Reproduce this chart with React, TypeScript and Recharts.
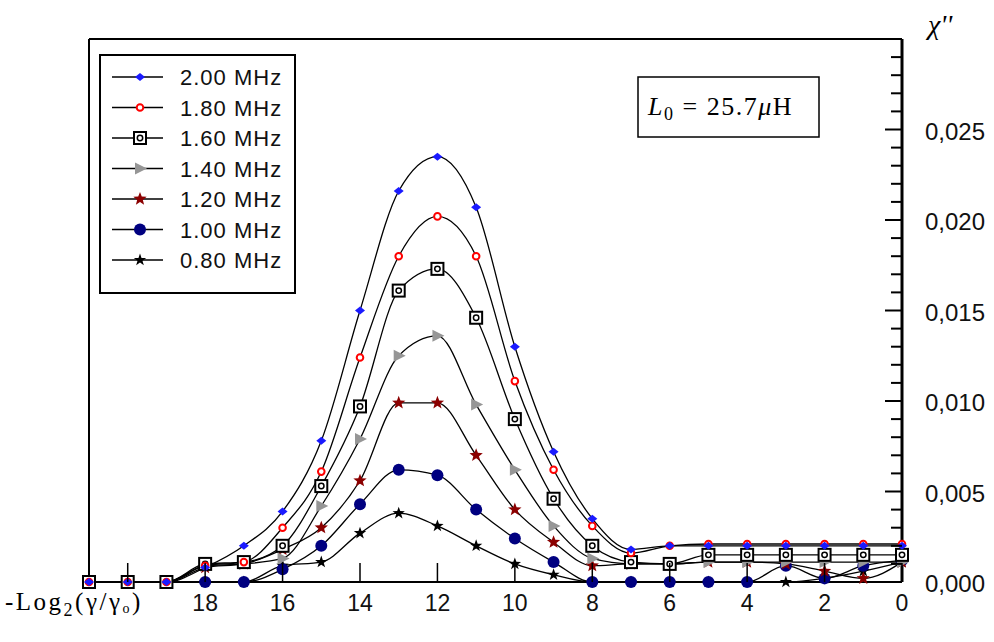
import React from 'react';
import { LineChart, Line, XAxis, YAxis, ReferenceLine } from 'recharts';

// x positions: -Log2(γ/γ0)
const xValues = [21, 20, 19, 18, 17, 16, 15, 14, 13, 12, 11, 10, 9, 8, 7, 6, 5, 4, 3, 2, 1, 0];

const s200 = [0, 0, 0, 0.0008, 0.002, 0.0039, 0.0078, 0.015, 0.0216, 0.0235, 0.0207, 0.013, 0.0072, 0.0035, 0.0018, 0.002, 0.002, 0.002, 0.002, 0.002, 0.002, 0.002];
const s180 = [0, 0, 0, 0.0009, 0.0011, 0.003, 0.0061, 0.0124, 0.018, 0.0202, 0.018, 0.0111, 0.0062, 0.0031, 0.0016, 0.002, 0.0021, 0.0021, 0.0021, 0.0021, 0.0021, 0.0021];
const s160 = [0, 0, 0, 0.001, 0.0011, 0.002, 0.0053, 0.0097, 0.0161, 0.0173, 0.0146, 0.009, 0.0046, 0.002, 0.0011, 0.001, 0.0015, 0.0015, 0.0015, 0.0015, 0.0015, 0.0015];
const s140 = [0, 0, 0, 0.0009, 0.001, 0.0013, 0.0042, 0.0079, 0.0125, 0.0136, 0.0098, 0.0062, 0.0031, 0.0013, 0.001, 0.001, 0.0011, 0.0011, 0.0011, 0.0011, 0.0011, 0.0011];
const s120 = [0, 0, 0, 0.0008, 0.001, 0.0018, 0.003, 0.0056, 0.0099, 0.0099, 0.007, 0.004, 0.0022, 0.0009, 0.001, 0.001, 0.0011, 0.0011, 0.001, 0.0006, 0.0002, 0.0011];
const s100 = [0, 0, 0, 0, 0, 0.0007, 0.002, 0.0043, 0.0062, 0.0059, 0.004, 0.0024, 0.0011, 0, 0, 0, 0, 0, 0.0009, 0.0002, 0.0009, 0.0012];
const s080 = [0, 0, 0, 0, 0, 0.0009, 0.0011, 0.0027, 0.0038, 0.0031, 0.002, 0.001, 0.0004, 0, 0, 0, 0, 0, 0, 0.0002, 0.0006, 0.0011];

const seriesNames = ['2.00 MHz', '1.80 MHz', '1.60 MHz', '1.40 MHz', '1.20 MHz', '1.00 MHz', '0.80 MHz'];
const seriesKeys = ['s200', 's180', 's160', 's140', 's120', 's100', 's080'];
const seriesMarkers = ['diamond', 'ring', 'box', 'triangle', 'starRed', 'circle', 'starBlack'];

const xTicks = [20, 18, 16, 14, 12, 10, 8, 6, 4, 2, 0];
const yTicks = [0, 0.001, 0.002, 0.003, 0.004, 0.005, 0.006, 0.007, 0.008, 0.009, 0.01, 0.011, 0.012, 0.013, 0.014, 0.015, 0.016, 0.017, 0.018, 0.019, 0.02, 0.021, 0.022, 0.023, 0.024, 0.025, 0.026, 0.027, 0.028, 0.029, 0.03];
const yMajorLabels = [0, 0.005, 0.01, 0.015, 0.02, 0.025];

const allSeries = [s200, s180, s160, s140, s120, s100, s080];
const data = xValues.map((x, i) => {
  const row: any = { x };
  seriesKeys.forEach((k, j) => { row[k] = allSeries[j][i]; });
  return row;
});

function starPoints(cx: number, cy: number, R: number, r: number) {
  const pts: string[] = [];
  for (let i = 0; i < 10; i++) {
    const a = -Math.PI / 2 + (i * Math.PI) / 5;
    const rad = i % 2 === 0 ? R : r;
    pts.push(`${cx + rad * Math.cos(a)},${cy + rad * Math.sin(a)}`);
  }
  return pts.join(' ');
}

function Marker({ kind, cx, cy }: { kind: string; cx: number; cy: number }) {
  switch (kind) {
    case 'diamond':
      return <polygon points={`${cx},${cy - 4} ${cx + 5},${cy} ${cx},${cy + 4} ${cx - 5},${cy}`} fill="#1a1aff" />;
    case 'ring':
      return <circle cx={cx} cy={cy} r={3.3} fill="#fff" stroke="#ff0000" strokeWidth={2} />;
    case 'box':
      return (
        <g>
          <rect x={cx - 6} y={cy - 6} width={12} height={12} fill="#fff" stroke="#000" strokeWidth={2} />
          <circle cx={cx} cy={cy} r={2.7} fill="none" stroke="#000" strokeWidth={1.5} />
        </g>
      );
    case 'triangle':
      return <polygon points={`${cx - 5},${cy - 6} ${cx + 7},${cy} ${cx - 5},${cy + 6}`} fill="#969696" />;
    case 'starRed':
      return <polygon points={starPoints(cx, cy, 7, 3)} fill="#8b0000" />;
    case 'circle':
      return <circle cx={cx} cy={cy} r={6} fill="#000080" />;
    case 'starBlack':
      return <polygon points={starPoints(cx, cy, 6.5, 2.6)} fill="#000" />;
    default:
      return null;
  }
}

const makeDot = (kind: string, key: string) => (props: any) => {
  if (props.cx == null || props.cy == null) return <g key={`${key}-${props.index}`} />;
  return (
    <g key={`${key}-${props.index}`}>
      <Marker kind={kind} cx={props.cx} cy={props.cy} />
    </g>
  );
};

const XTick = (props: any) => {
  const { x, y, payload } = props;
  const v = payload.value;
  return (
    <g>
      <line x1={x} y1={y} x2={x} y2={y - 19} stroke="#000" strokeWidth={1.5} />
      {v !== 20 && (
        <text x={x} y={y + 29} textAnchor="middle" fontFamily="'Liberation Sans', Arial, sans-serif" fontSize={23} fill="#111">
          {v}
        </text>
      )}
    </g>
  );
};

const YTick = (props: any) => {
  const { x, y, payload } = props;
  const v = payload.value;
  const isMajor = yMajorLabels.some((m) => Math.abs(m - v) < 1e-9);
  return (
    <g>
      <line x1={x} y1={y} x2={x - (isMajor ? 17 : 11)} y2={y} stroke="#000" strokeWidth={2} />
      {isMajor && (
        <text x={x + 23} y={y + 10} textAnchor="start" fontFamily="'Liberation Sans', Arial, sans-serif" fontSize={24} fill="#111">
          {v.toFixed(3).replace('.', ',')}
        </text>
      )}
    </g>
  );
};

export default function App() {
  const drawOrder = [6, 5, 4, 3, 2, 1, 0];
  return (
    <div style={{ position: 'absolute', left: 0, top: 0, width: 994, height: 642, background: '#fff' }}>
      <LineChart width={994} height={642} data={data} margin={{ top: 39, right: 12, bottom: 20, left: 89 }}>
        <XAxis
          dataKey="x"
          type="number"
          domain={[0, 21]}
          reversed
          ticks={xTicks}
          interval={0}
          tickSize={0}
          tickMargin={0}
          tickLine={false}
          axisLine={{ stroke: '#000', strokeWidth: 2 }}
          height={40}
          tick={<XTick />}
        />
        <YAxis
          orientation="right"
          type="number"
          domain={[0, 0.03]}
          ticks={yTicks}
          interval={0}
          tickSize={0}
          tickMargin={0}
          tickLine={false}
          axisLine={{ stroke: '#000', strokeWidth: 3 }}
          width={80}
          tick={<YTick />}
        />
        <ReferenceLine y={0.03} stroke="#000" strokeWidth={2} />
        <ReferenceLine x={21} stroke="#000" strokeWidth={2} />
        {drawOrder.map((j) => (
          <Line
            key={seriesKeys[j]}
            type="monotoneX"
            dataKey={seriesKeys[j]}
            stroke="#000"
            strokeWidth={1.3}
            dot={makeDot(seriesMarkers[j], seriesKeys[j])}
            activeDot={false}
            isAnimationActive={false}
          />
        ))}
      </LineChart>
      <svg width={994} height={642} style={{ position: 'absolute', left: 0, top: 0, pointerEvents: 'none' }}>
        {/* Legend */}
        <rect x={100} y={55} width={195} height={238} fill="#fff" stroke="#000" strokeWidth={2} />
        {seriesNames.map((name, i) => {
          const cy = 77 + i * 30.5;
          return (
            <g key={name}>
              <line x1={112} y1={cy} x2={163} y2={cy} stroke="#000" strokeWidth={1.5} />
              <Marker kind={seriesMarkers[i]} cx={140} cy={cy} />
              <text x={180} y={cy + 8} fontFamily="'Liberation Sans', Arial, sans-serif" fontSize={22} letterSpacing={1} fill="#111">
                {name}
              </text>
            </g>
          );
        })}
        {/* L0 annotation */}
        <rect x={638} y={77} width={181} height={60} fill="#fff" stroke="#000" strokeWidth={1.5} />
        <text x={648} y={115} fontFamily="'Liberation Serif', 'Times New Roman', serif" fontSize={26} letterSpacing={1.5} fill="#000">
          <tspan fontStyle="italic">L</tspan>
          <tspan fontSize={18} dy={5}>0</tspan>
          <tspan dy={-5}> = 25.7</tspan>
          <tspan fontStyle="italic">μ</tspan>
          <tspan>H</tspan>
        </text>
        {/* y axis title */}
        <text x={928} y={34} fontFamily="'Liberation Serif', 'Times New Roman', serif" fontStyle="italic" fontSize={28} fill="#000">
          χ''
        </text>
        {/* x axis title */}
        <text x={5} y={610} fontFamily="'Liberation Serif', 'Times New Roman', serif" fontSize={25} letterSpacing={2.5} fill="#000">
          -Log
          <tspan fontSize={18} dy={6}>2</tspan>
          <tspan dy={-6}>(γ/γ</tspan>
          <tspan fontSize={14} dy={3}>o</tspan>
          <tspan dy={-3}>)</tspan>
        </text>
      </svg>
    </div>
  );
}
